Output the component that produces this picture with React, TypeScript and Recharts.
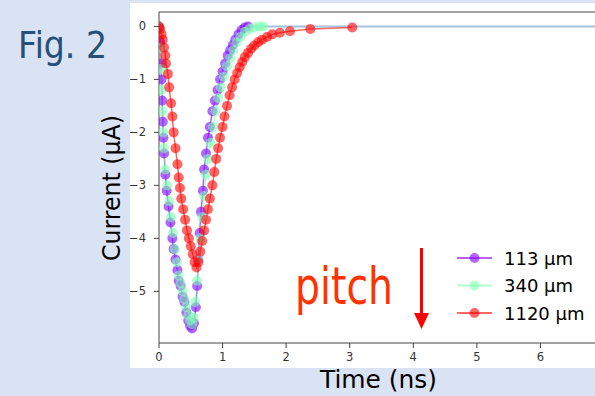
import {LineChart, Line, XAxis, YAxis, Legend, ReferenceLine} from 'recharts';

// pulse shapes (time in ns, current in µA)
const TIME_113 = [0.00, 0.02, 0.03, 0.04, 0.05, 0.06, 0.07, 0.08, 0.10, 0.12, 0.15, 0.18, 0.21, 0.23, 0.26, 0.29, 0.31, 0.34, 0.37, 0.40, 0.43, 0.46, 0.49, 0.52, 0.55, 0.58, 0.60, 0.62, 0.64, 0.66, 0.69, 0.71, 0.74, 0.77, 0.80, 0.84, 0.88, 0.92, 0.96, 1.00, 1.04, 1.08, 1.12, 1.16, 1.20, 1.25, 1.30, 1.35, 1.40];
const CURRENT_113 = [0.00, -0.30, -0.70, -1.00, -1.40, -1.80, -2.10, -2.40, -2.80, -3.10, -3.40, -3.70, -4.00, -4.20, -4.40, -4.60, -4.80, -4.90, -5.10, -5.20, -5.40, -5.55, -5.65, -5.70, -5.60, -5.30, -4.90, -4.40, -3.90, -3.50, -3.10, -2.70, -2.40, -2.10, -1.90, -1.60, -1.40, -1.20, -1.00, -0.85, -0.70, -0.55, -0.45, -0.35, -0.25, -0.15, -0.07, -0.02, 0.00];

const TIME_340 = [0.00, 0.02, 0.03, 0.04, 0.05, 0.07, 0.08, 0.10, 0.13, 0.16, 0.19, 0.22, 0.25, 0.28, 0.31, 0.34, 0.37, 0.40, 0.43, 0.46, 0.49, 0.52, 0.55, 0.57, 0.60, 0.62, 0.65, 0.68, 0.71, 0.74, 0.77, 0.81, 0.85, 0.89, 0.93, 0.97, 1.02, 1.07, 1.12, 1.17, 1.22, 1.28, 1.35, 1.42, 1.50, 1.58, 1.64];
const CURRENT_340 = [0.00, -0.40, -0.80, -1.20, -1.60, -2.00, -2.30, -2.70, -3.00, -3.30, -3.60, -3.90, -4.20, -4.45, -4.70, -4.85, -5.00, -5.15, -5.30, -5.45, -5.55, -5.62, -5.50, -5.20, -4.80, -4.40, -4.00, -3.60, -3.20, -2.80, -2.50, -2.20, -1.90, -1.60, -1.35, -1.15, -0.95, -0.75, -0.60, -0.45, -0.30, -0.20, -0.10, -0.05, -0.02, 0.00, 0.00];

const TIME_1120 = [0.00, 0.02, 0.04, 0.06, 0.08, 0.10, 0.11, 0.14, 0.16, 0.19, 0.21, 0.23, 0.26, 0.29, 0.31, 0.33, 0.35, 0.38, 0.41, 0.44, 0.47, 0.50, 0.53, 0.56, 0.59, 0.62, 0.65, 0.68, 0.71, 0.74, 0.77, 0.80, 0.84, 0.87, 0.90, 0.93, 0.96, 1.00, 1.03, 1.07, 1.11, 1.15, 1.19, 1.23, 1.27, 1.31, 1.35, 1.40, 1.45, 1.50, 1.56, 1.62, 1.70, 1.78, 1.90, 2.06, 2.38, 3.04];
const CURRENT_1120 = [0.00, -0.05, -0.15, -0.25, -0.40, -0.55, -0.70, -0.90, -1.15, -1.45, -1.70, -2.00, -2.30, -2.60, -2.85, -3.05, -3.25, -3.45, -3.65, -3.85, -4.00, -4.15, -4.30, -4.45, -4.55, -4.45, -4.25, -4.05, -3.85, -3.65, -3.45, -3.25, -3.00, -2.75, -2.50, -2.30, -2.10, -1.90, -1.70, -1.50, -1.30, -1.15, -1.00, -0.88, -0.77, -0.67, -0.58, -0.50, -0.42, -0.36, -0.30, -0.25, -0.20, -0.15, -0.12, -0.09, -0.05, -0.02];

const SERIES_NAMES = ['113 µm', '340 µm', '1120 µm'];
const SERIES_COLORS = ['#8000ff', '#80ffb4', '#ff0000'];

const X_TICKS = [0, 1, 2, 3, 4, 5, 6];
const Y_TICKS = [0, -1, -2, -3, -4, -5];
const X_MAX = 7;
const Y_MIN = -5.975;
const Y_MAX = 0.272;

const toPoints = (t: number[], c: number[]) => t.map((x, i) => ({t: x, i: c[i]}));
const seriesData = [
    toPoints(TIME_113, CURRENT_113),
    toPoints(TIME_340, CURRENT_340),
    toPoints(TIME_1120, CURRENT_1120),
];

const fmt = (v: number) => (v < 0 ? '\u2212' + Math.abs(v) : String(v));
const tickStyle = {fontSize: 11.5, fill: '#333', fontFamily: 'DejaVu Sans'};

const renderLegend = () => (
    <svg width={140} height={85}>
        {SERIES_NAMES.map((name, k) => {
            const y = 14 + k * 27.5;
            return (
                <g key={name}>
                    <line x1={0} x2={35} y1={y} y2={y} stroke={SERIES_COLORS[k]} strokeOpacity={0.6} strokeWidth={2}/>
                    <circle cx={17.5} cy={y} r={5} fill={SERIES_COLORS[k]} fillOpacity={0.6}/>
                    <text x={47} y={y + 6.5} fontSize={18} fontFamily="DejaVu Sans" fill="#000">{name}</text>
                </g>
            );
        })}
    </svg>
);

export default function App() {
    return (
        <div style={{position: 'fixed', left: 0, top: 0, width: 595, height: 396, overflow: 'hidden', background: '#dae3f3'}}>
            <div style={{position: 'absolute', left: 130, top: 3, width: 480, height: 365, background: '#fff'}}>
                <LineChart width={480} height={365} margin={{top: 9, right: 6, bottom: 0, left: 0}}>
                    <XAxis type="number" dataKey="t" domain={[0, X_MAX]} ticks={X_TICKS} height={25}
                           tick={tickStyle} tickSize={5} tickMargin={5} tickFormatter={fmt}
                           axisLine={{stroke: '#444'}} tickLine={{stroke: '#444'}} allowDataOverflow/>
                    <YAxis type="number" domain={[Y_MIN, Y_MAX]} ticks={Y_TICKS} width={29}
                           tick={tickStyle} tickSize={5} tickMargin={8} tickFormatter={fmt}
                           axisLine={{stroke: '#444'}} tickLine={{stroke: '#444'}} allowDataOverflow/>
                    <ReferenceLine y={Y_MAX} stroke="#444"/>
                    <ReferenceLine segment={[{x: 1.35, y: 0}, {x: X_MAX, y: 0}]} stroke="#a3c2e0" strokeWidth={2}/>
                    {seriesData.map((d, k) => (
                        <Line key={SERIES_NAMES[k]} name={SERIES_NAMES[k]} data={d} dataKey="i" type="linear"
                              stroke={SERIES_COLORS[k]} strokeOpacity={0.6} strokeWidth={1.5}
                              dot={{r: 5, fill: SERIES_COLORS[k], fillOpacity: 0.6, stroke: 'none'}}
                              activeDot={false} isAnimationActive={false}/>
                    ))}
                    <Legend content={renderLegend} layout="vertical" align="center" verticalAlign="middle"
                            wrapperStyle={{position: 'absolute', left: 327, top: 241, width: 140, height: 85}}/>
                </LineChart>
            </div>
            <svg width={595} height={396} style={{position: 'absolute', left: 0, top: 0, pointerEvents: 'none'}}>
                <text x={18} y={58.3} fontSize={38} fontFamily="DejaVu Sans" fill="#24507a"
                      textLength={89} lengthAdjust="spacingAndGlyphs">Fig. 2</text>
                <text transform="translate(120,188) rotate(-90)" textAnchor="middle" fontSize={25}
                      fontFamily="DejaVu Sans" fill="#000" textLength={146} lengthAdjust="spacingAndGlyphs">Current (µA)</text>
                <text x={320} y={388} fontSize={24} fontFamily="DejaVu Sans" fill="#000"
                      textLength={117} lengthAdjust="spacingAndGlyphs">Time (ns)</text>
                <text x={295} y={304} fontSize={52} fontFamily="DejaVu Sans" fill="#ff3300"
                      textLength={98} lengthAdjust="spacingAndGlyphs">pitch</text>
                <line x1={421.5} x2={421.5} y1={248} y2={315} stroke="#ff0000" strokeWidth={3}/>
                <polygon points="414,313 429,313 421.5,329" fill="#ff0000"/>
            </svg>
        </div>
    );
}
